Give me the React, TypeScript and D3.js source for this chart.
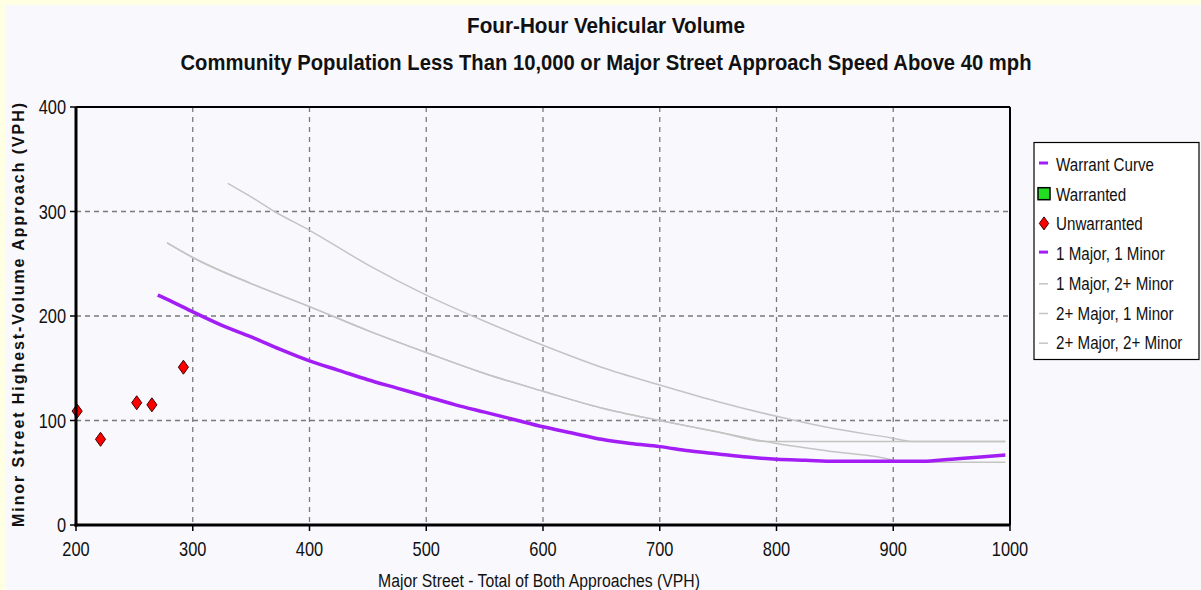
import React, { useEffect } from 'react'
import * as d3 from 'd3'

// Major street volume (x) vs minor street volume (y)
const oneMajorOneMinor: [number, number][] = [
  [270, 220], [280, 215], [300, 204], [325, 191], [350, 180], [375, 168], [400, 157],
  [425, 148], [450, 139], [475, 131], [500, 123], [525, 115], [550, 108], [575, 101],
  [600, 94], [625, 88], [650, 82], [675, 78], [700, 75], [725, 71], [750, 68],
  [775, 65], [800, 63], [825, 62], [850, 61], [875, 61], [900, 61], [925, 61],
  [950, 63], [975, 65], [996, 67],
]
const oneMajorTwoMinor: [number, number][] = [
  [278, 270], [300, 256], [350, 231], [400, 209], [450, 186], [500, 165], [550, 145],
  [600, 128], [650, 112], [700, 100], [750, 89], [790, 80], [850, 80], [900, 80], [996, 80],
]
const twoMajorOneMinor: [number, number][] = [
  [278, 270], [300, 256], [350, 231], [400, 209], [450, 186], [500, 165], [550, 145],
  [600, 128], [650, 112], [700, 100], [750, 89], [800, 78], [850, 70], [900, 62],
  [906, 60], [950, 60], [996, 60],
]
const twoMajorTwoMinor: [number, number][] = [
  [330, 327], [350, 314], [370, 300], [400, 282], [450, 249], [500, 220], [550, 195],
  [600, 172], [650, 151], [700, 134], [750, 118], [800, 104], [850, 92], [900, 83],
  [915, 80], [950, 80], [996, 80],
]
const unwarranted: [number, number][] = [
  [201, 109], [221, 82], [252, 117], [265, 115], [292, 151],
]
const xTicks = [200, 300, 400, 500, 600, 700, 800, 900, 1000]
const yTicks = [0, 100, 200, 300, 400]
const legendItems = [
  { label: 'Warrant Curve', kind: 'purple' },
  { label: 'Warranted', kind: 'square' },
  { label: 'Unwarranted', kind: 'diamond' },
  { label: '1 Major, 1 Minor', kind: 'purple' },
  { label: '1 Major, 2+ Minor', kind: 'gray' },
  { label: '2+ Major, 1 Minor', kind: 'gray' },
  { label: '2+ Major, 2+ Minor', kind: 'gray' },
]

const W = 1201
const H = 590
const PURPLE = '#a21ef5'
const GRAY = '#c4c4c4'
const FONT = "'Liberation Sans', Arial, sans-serif"
const SQUEEZE = 0.82 // fake a narrow face

const diamond = (cx: number, cy: number, r = 6.5) =>
  `M${cx},${cy - r} L${cx + r * 0.72},${cy} L${cx},${cy + r} L${cx - r * 0.72},${cy} Z`

function NText({ x, y, size, anchor = 'start', bold = false, children }:
  { x: number, y: number, size: number, anchor?: string, bold?: boolean, children: React.ReactNode }) {
  return (
    <text transform={`translate(${x},${y}) scale(${SQUEEZE},1)`} textAnchor={anchor}
      fontSize={size} fontWeight={bold ? 'bold' : 'normal'} fill="#111">{children}</text>
  )
}

export default function App() {
  useEffect(() => { document.body.style.margin = '0' }, [])

  const x = d3.scaleLinear().domain([200, 1000]).range([76, 1010])
  const y = d3.scaleLinear().domain([0, 400]).range([525, 107])
  const line = d3.line<[number, number]>()
    .x(d => x(d[0]))
    .y(d => y(d[1]))
    .curve(d3.curveMonotoneX)

  return (
    <svg width={W} height={H} style={{ display: 'block', fontFamily: FONT }}>
      <rect x={0} y={0} width={W} height={H} fill="#ffffe4" />
      <rect x={6} y={5} width={W - 6} height={H - 5} fill="#f9f9fd" />

      <text x={606} y={33} textAnchor="middle" fontSize={22.5} fontWeight="bold" fill="#111"
        textLength={278} lengthAdjust="spacingAndGlyphs">Four-Hour Vehicular Volume</text>
      <text x={606} y={70} textAnchor="middle" fontSize={22.5} fontWeight="bold" fill="#111"
        textLength={851} lengthAdjust="spacingAndGlyphs">
        Community Population Less Than 10,000 or Major Street Approach Speed Above 40 mph
      </text>

      {/* grid */}
      {xTicks.filter(t => t > 200 && t < 1000).map(t => (
        <line key={'gx' + t} x1={x(t)} x2={x(t)} y1={y(400)} y2={y(0)}
          stroke="#7a7a7a" strokeWidth={1.3} strokeDasharray="5,5" />
      ))}
      {yTicks.filter(t => t > 0 && t < 400).map(t => (
        <line key={'gy' + t} x1={x(200)} x2={x(1000)} y1={y(t)} y2={y(t)}
          stroke="#7a7a7a" strokeWidth={1.3} strokeDasharray="5,4" />
      ))}

      {/* curves */}
      <path d={line(twoMajorTwoMinor) || ''} fill="none" stroke={GRAY} strokeWidth={1.5} />
      <path d={line(oneMajorTwoMinor) || ''} fill="none" stroke={GRAY} strokeWidth={1.5} />
      <path d={line(twoMajorOneMinor) || ''} fill="none" stroke={GRAY} strokeWidth={1.5} />
      <path d={line(oneMajorOneMinor) || ''} fill="none" stroke={PURPLE} strokeWidth={3.5} />

      {unwarranted.map((p, i) => (
        <path key={i} d={diamond(x(p[0]), y(p[1]), 7)} fill="#ff0000" stroke="#3a0000" strokeWidth={1} />
      ))}

      {/* frame */}
      <line x1={x(200)} x2={x(1000)} y1={y(400)} y2={y(400)} stroke="#000" strokeWidth={2} />
      <line x1={x(1000)} x2={x(1000)} y1={y(400)} y2={y(0)} stroke="#000" strokeWidth={2} />
      <line x1={x(200)} x2={x(200)} y1={y(400)} y2={y(0) + 1.5} stroke="#000" strokeWidth={3} />
      <line x1={x(200) - 1.5} x2={x(1000)} y1={y(0)} y2={y(0)} stroke="#000" strokeWidth={3} />

      {xTicks.map(t => (
        <g key={'tx' + t}>
          <line x1={x(t)} x2={x(t)} y1={y(0)} y2={y(0) + 6} stroke="#000" strokeWidth={1.5} />
          <NText x={x(t)} y={556} size={20} anchor="middle">{t}</NText>
        </g>
      ))}
      {yTicks.map(t => (
        <g key={'ty' + t}>
          <line x1={x(200) - 6} x2={x(200)} y1={y(t)} y2={y(t)} stroke="#000" strokeWidth={1.5} />
          <NText x={66} y={y(t) + 7} size={20} anchor="end">{t}</NText>
        </g>
      ))}

      <text x={539} y={587} textAnchor="middle" fontSize={18} fill="#111"
        textLength={322} lengthAdjust="spacingAndGlyphs">Major Street - Total of Both Approaches (VPH)</text>
      <text transform="translate(24,315) rotate(-90)" textAnchor="middle" fontSize={16} fill="#111"
        fontWeight="bold" textLength={424} lengthAdjust="spacing">
        Minor Street Highest-Volume Approach (VPH)
      </text>

      {/* legend */}
      <rect x={1034} y={142.5} width={165} height={217} fill="#ffffff" stroke="#000" strokeWidth={1.2} />
      {legendItems.map((item, i) => {
        const cy = 165 + i * 29.7
        return (
          <g key={item.label}>
            {item.kind === 'purple' && (
              <line x1={1039} x2={1048} y1={cy - 2} y2={cy - 2} stroke={PURPLE} strokeWidth={3} />
            )}
            {item.kind === 'gray' && (
              <line x1={1039} x2={1048} y1={cy} y2={cy} stroke={GRAY} strokeWidth={1.5} />
            )}
            {item.kind === 'square' && (
              <rect x={1038} y={cy - 7} width={12} height={12} fill="#22dd22" stroke="#000" strokeWidth={1.5} />
            )}
            {item.kind === 'diamond' && (
              <path d={diamond(1044, cy - 1)} fill="#ff0000" stroke="#3a0000" strokeWidth={1} />
            )}
            <NText x={1056} y={cy + 6} size={18.5}>{item.label}</NText>
          </g>
        )
      })}
    </svg>
  )
}
